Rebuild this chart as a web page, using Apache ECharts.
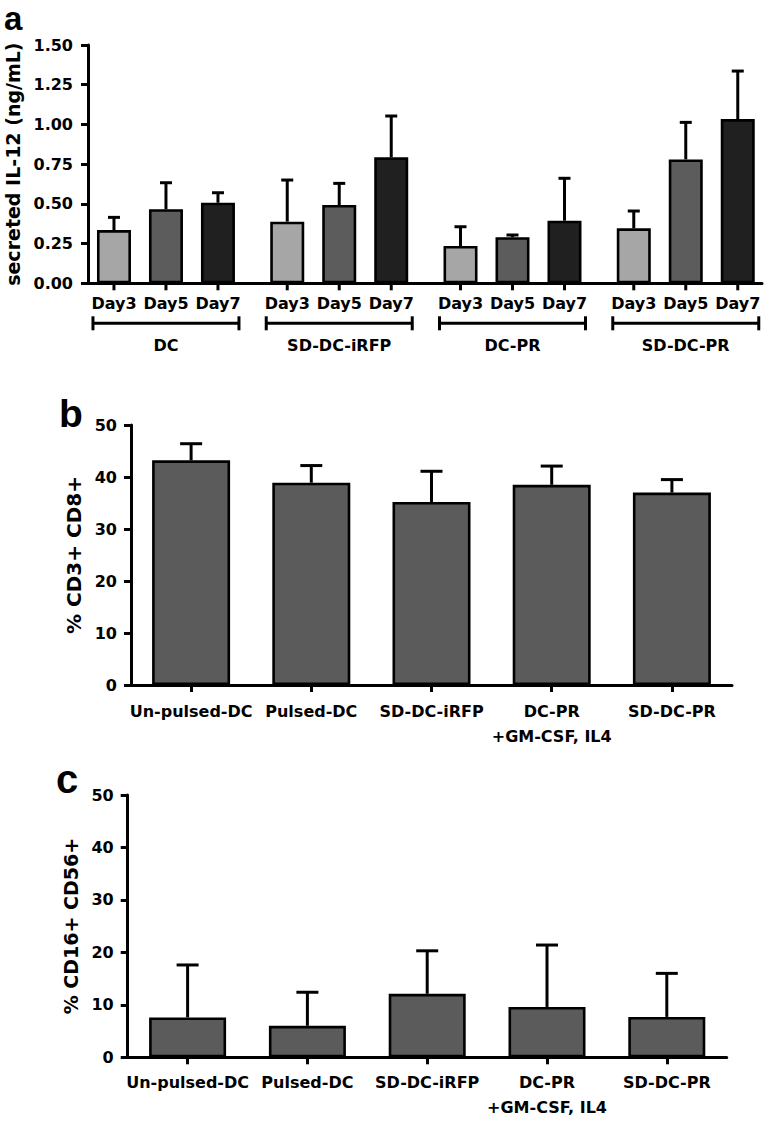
<!DOCTYPE html>
<html><head><meta charset="utf-8">
<script src="https://cdn.jsdelivr.net/npm/echarts@6/dist/echarts.min.js"></script>
<style>html,body{margin:0;padding:0;background:#fff}#chart{width:770px;height:1124px}</style>
</head><body><div id="chart"></div>
<script>
// ---------- DATA ----------
// Panel a: secreted IL-12 (ng/mL)
const groupsA = ['DC', 'SD-DC-iRFP', 'DC-PR', 'SD-DC-PR'];
const daysA = ['Day3', 'Day5', 'Day7'];
const il12Day3 = [0.335, 0.388, 0.235, 0.346];
const il12Day5 = [0.466, 0.493, 0.290, 0.780];
const il12Day7 = [0.507, 0.793, 0.394, 1.034];
const il12ErrDay3 = [0.080, 0.262, 0.121, 0.109];
const il12ErrDay5 = [0.167, 0.136, 0.014, 0.233];
const il12ErrDay7 = [0.063, 0.260, 0.267, 0.302];
const ticksA = [0, 0.25, 0.5, 0.75, 1.0, 1.25, 1.5];

// Panel b / c categories
const groupsBC = ['Un-pulsed-DC', 'Pulsed-DC', 'SD-DC-iRFP', 'DC-PR\n+GM-CSF, IL4', 'SD-DC-PR'];
// Panel b: % CD3+ CD8+
const cd8Mean = [43.2, 38.9, 35.2, 38.5, 37.0];
const cd8Err = [3.2, 3.3, 5.9, 3.6, 2.5];
// Panel c: % CD16+ CD56+
const cd56Mean = [7.6, 6.0, 12.1, 9.6, 7.7];
const cd56Err = [10.0, 6.4, 8.2, 11.8, 8.3];
const ticksBC = [0, 10, 20, 30, 40, 50];

// ---------- STYLE ----------
const FONT = '"DejaVu Sans", Verdana, sans-serif';
const LETTER_FONT = '"Liberation Sans", Arial, sans-serif';
const dayColors = ['#a6a6a6', '#5c5c5c', '#202020'];
const barColorBC = '#5b5b5b';
const BAR_A = 34, GAP_A = 18;
const LW = 3;

const chart = echarts.init(document.getElementById('chart'), null, {renderer: 'svg'});

const dayMeans = [il12Day3, il12Day5, il12Day7];
const dayErrs = [il12ErrDay3, il12ErrDay5, il12ErrDay7];

function errorRenderer(dx, capW) {
  return function (params, api) {
    const x = api.value(0), y = api.value(1), e = api.value(2);
    const p0 = api.coord([x, y]);
    const p1 = api.coord([x, y + e]);
    const cx = p0[0] + dx;
    return {
      type: 'group',
      children: [
        {type: 'line', shape: {x1: cx, y1: p0[1], x2: cx, y2: p1[1]}, style: {stroke: '#000', lineWidth: LW}},
        {type: 'line', shape: {x1: cx - capW / 2, y1: p1[1], x2: cx + capW / 2, y2: p1[1]}, style: {stroke: '#000', lineWidth: LW}}
      ]
    };
  };
}

function txt(text, x, y, size) {
  return {type: 'text', style: {text: text, x: x, y: y, align: 'center', verticalAlign: 'middle',
    fontFamily: FONT, fontSize: size, fontWeight: 'bold', fill: '#000'}};
}

function annotRenderer(params, api) {
  const g = api.value(0);
  const base = api.coord([g, 0]);
  const step = BAR_A + GAP_A;
  const children = [];
  daysA.forEach(function (d, k) {
    const cx = base[0] + (k - 1) * step;
    children.push({type: 'line', shape: {x1: cx, y1: base[1], x2: cx, y2: base[1] + 7}, style: {stroke: '#000', lineWidth: LW}});
    children.push(txt(d, cx, base[1] + 20, 16));
  });
  const xl = base[0] - step - 21, xr = base[0] + step + 21, yb = base[1] + 40;
  children.push({type: 'line', shape: {x1: xl, y1: yb, x2: xr, y2: yb}, style: {stroke: '#000', lineWidth: LW}});
  children.push({type: 'line', shape: {x1: xl, y1: yb - 7, x2: xl, y2: yb + 7}, style: {stroke: '#000', lineWidth: LW}});
  children.push({type: 'line', shape: {x1: xr, y1: yb - 7, x2: xr, y2: yb + 7}, style: {stroke: '#000', lineWidth: LW}});
  children.push(txt(groupsA[g], base[0], base[1] + 62, 16));
  return {type: 'group', children: children};
}

const axisLbl = {color: '#000', fontFamily: FONT, fontSize: 16, fontWeight: 'bold'};
const nameStyle = {color: '#000', fontFamily: FONT, fontSize: 19, fontWeight: 'bold'};
const axLine = {show: true, onZero: false, lineStyle: {color: '#000', width: LW}};
const axTick = {show: true, length: 7, lineStyle: {color: '#000', width: LW}};

const series = [];
daysA.forEach(function (d, k) {
  series.push({
    name: d, type: 'bar', xAxisIndex: 0, yAxisIndex: 0,
    barWidth: BAR_A, barGap: (GAP_A / BAR_A * 100).toFixed(1) + '%',
    itemStyle: {color: dayColors[k], borderColor: '#000', borderWidth: 2.6},
    data: groupsA.map(function (g, i) { return [i, dayMeans[k][i]]; })
  });
});
daysA.forEach(function (d, k) {
  series.push({
    type: 'custom', xAxisIndex: 0, yAxisIndex: 0, z: 3,
    renderItem: errorRenderer((k - 1) * (BAR_A + GAP_A), 12),
    data: groupsA.map(function (g, i) { return [i, dayMeans[k][i], dayErrs[k][i]]; })
  });
});
series.push({
  type: 'custom', xAxisIndex: 0, yAxisIndex: 0, renderItem: annotRenderer,
  data: groupsA.map(function (g, i) { return [i, 0]; })
});
// panel b
series.push({
  type: 'bar', xAxisIndex: 1, yAxisIndex: 1, barWidth: 78,
  itemStyle: {color: barColorBC, borderColor: '#000', borderWidth: 2.6}, data: cd8Mean
});
series.push({
  type: 'custom', xAxisIndex: 1, yAxisIndex: 1, z: 3, renderItem: errorRenderer(0, 22),
  data: cd8Mean.map(function (v, i) { return [i, v, cd8Err[i]]; })
});
// panel c
series.push({
  type: 'bar', xAxisIndex: 2, yAxisIndex: 2, barWidth: 77,
  itemStyle: {color: barColorBC, borderColor: '#000', borderWidth: 2.6}, data: cd56Mean
});
series.push({
  type: 'custom', xAxisIndex: 2, yAxisIndex: 2, z: 3, renderItem: errorRenderer(0, 22),
  data: cd56Mean.map(function (v, i) { return [i, v, cd56Err[i]]; })
});

const option = {
  animation: false,
  backgroundColor: '#fff',
  grid: [
    {left: 88, top: 45, width: 674, height: 238.3, containLabel: false, outerBoundsMode: 'none'},
    {left: 131, top: 425, width: 601, height: 260, containLabel: false, outerBoundsMode: 'none'},
    {left: 127.7, top: 795, width: 599, height: 262.3, containLabel: false, outerBoundsMode: 'none'}
  ],
  xAxis: [
    {gridIndex: 0, type: 'value', min: -0.45, max: 3.44, axisLine: axLine, axisTick: {show: false},
      axisLabel: {show: false}, splitLine: {show: false}},
    {gridIndex: 1, type: 'category', data: groupsBC, axisLine: axLine,
      axisTick: Object.assign({alignWithLabel: true}, axTick),
      axisLabel: Object.assign({interval: 0, margin: 14, lineHeight: 25}, axisLbl)},
    {gridIndex: 2, type: 'category', data: groupsBC, axisLine: axLine,
      axisTick: Object.assign({alignWithLabel: true}, axTick),
      axisLabel: Object.assign({interval: 0, margin: 13, lineHeight: 25}, axisLbl)}
  ],
  yAxis: [
    {gridIndex: 0, type: 'value', min: ticksA[0], max: ticksA[ticksA.length - 1], interval: ticksA[1] - ticksA[0],
      axisLine: axLine, axisTick: axTick, splitLine: {show: false},
      axisLabel: Object.assign({margin: 15, formatter: function (v) { return v.toFixed(2); }}, axisLbl),
      name: 'secreted IL-12 (ng/mL)', nameLocation: 'middle', nameRotate: 90, nameGap: 64, nameTextStyle: nameStyle},
    {gridIndex: 1, type: 'value', min: ticksBC[0], max: ticksBC[ticksBC.length - 1], interval: ticksBC[1] - ticksBC[0],
      axisLine: axLine, axisTick: axTick, splitLine: {show: false},
      axisLabel: Object.assign({margin: 14}, axisLbl),
      name: '% CD3+ CD8+', nameLocation: 'middle', nameRotate: 90, nameGap: 44, nameTextStyle: Object.assign({}, nameStyle, {fontSize: 20})},
    {gridIndex: 2, type: 'value', min: ticksBC[0], max: ticksBC[ticksBC.length - 1], interval: ticksBC[1] - ticksBC[0],
      axisLine: axLine, axisTick: axTick, splitLine: {show: false},
      axisLabel: Object.assign({margin: 14}, axisLbl),
      name: '% CD16+ CD56+', nameLocation: 'middle', nameRotate: 90, nameGap: 45, nameTextStyle: nameStyle}
  ],
  graphic: [
    {type: 'text', x: 4, y: 18, style: {text: 'a', fontFamily: LETTER_FONT, fontSize: 33, fontWeight: 'bold', fill: '#000', verticalAlign: 'middle'}},
    {type: 'text', x: 59, y: 413, style: {text: 'b', fontFamily: LETTER_FONT, fontSize: 39, fontWeight: 'bold', fill: '#000', verticalAlign: 'middle'}},
    {type: 'text', x: 56, y: 779, style: {text: 'c', fontFamily: LETTER_FONT, fontSize: 40, fontWeight: 'bold', fill: '#000', verticalAlign: 'middle'}}
  ],
  series: series
};
chart.setOption(option);
</script>
</body></html>
